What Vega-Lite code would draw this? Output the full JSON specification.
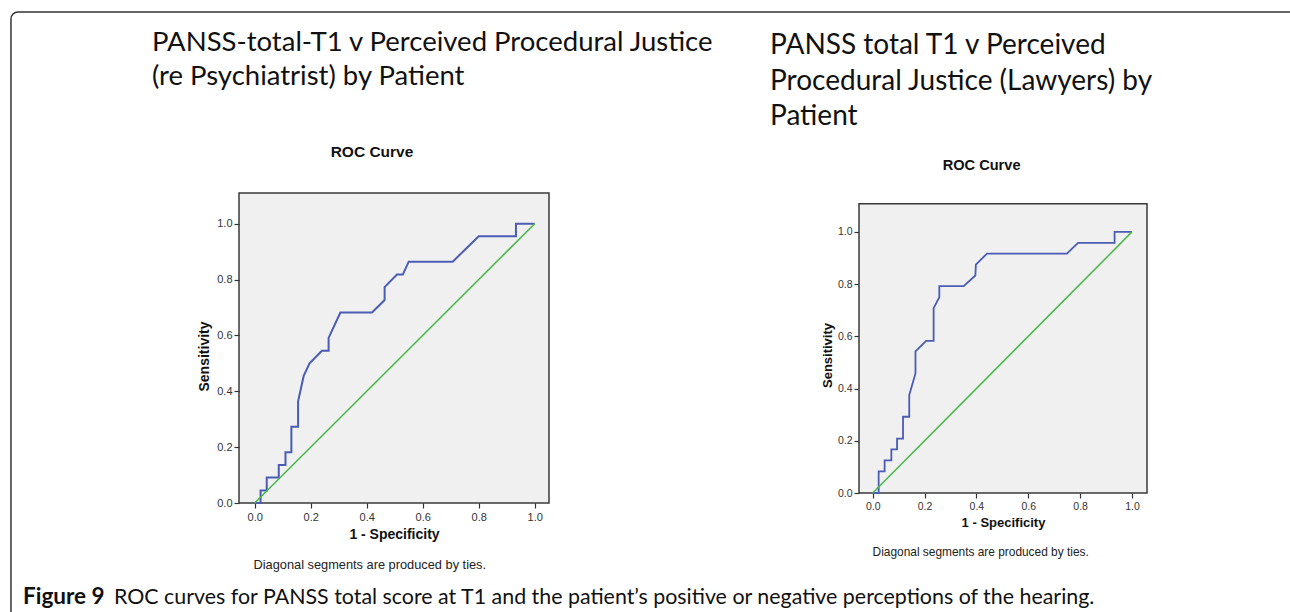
{
  "$schema": "https://vega.github.io/schema/vega-lite/v6.json",
  "padding": {"left": 9, "top": 10, "right": 0, "bottom": 0},
  "bounds": "flush",
  "spacing": 310,
  "config": {
    "view": {"stroke": null},
    "font": "Liberation Sans",
    "axis": {"grid": false, "domain": false, "labelFont": "Liberation Sans", "labelColor": "#333", "tickColor": "#333", "tickSize": 5, "tickWidth": 1.2,
      "titleFont": "Liberation Sans", "titleFontWeight": "bold", "titleColor": "#111"}
  },
  "datasets": {
    "left": [
      {"i": 0, "fpr": 0, "tpr": 0},
      {"i": 1, "fpr": 0.021, "tpr": 0},
      {"i": 2, "fpr": 0.021, "tpr": 0.045},
      {"i": 3, "fpr": 0.043, "tpr": 0.045},
      {"i": 4, "fpr": 0.043, "tpr": 0.091},
      {"i": 5, "fpr": 0.086, "tpr": 0.091},
      {"i": 6, "fpr": 0.086, "tpr": 0.136},
      {"i": 7, "fpr": 0.11, "tpr": 0.136},
      {"i": 8, "fpr": 0.11, "tpr": 0.182},
      {"i": 9, "fpr": 0.131, "tpr": 0.182},
      {"i": 10, "fpr": 0.131, "tpr": 0.273},
      {"i": 11, "fpr": 0.155, "tpr": 0.273},
      {"i": 12, "fpr": 0.155, "tpr": 0.364},
      {"i": 13, "fpr": 0.175, "tpr": 0.455},
      {"i": 14, "fpr": 0.196, "tpr": 0.5},
      {"i": 15, "fpr": 0.24, "tpr": 0.545},
      {"i": 16, "fpr": 0.264, "tpr": 0.545},
      {"i": 17, "fpr": 0.264, "tpr": 0.591},
      {"i": 18, "fpr": 0.306, "tpr": 0.682},
      {"i": 19, "fpr": 0.419, "tpr": 0.682},
      {"i": 20, "fpr": 0.464, "tpr": 0.727},
      {"i": 21, "fpr": 0.464, "tpr": 0.773},
      {"i": 22, "fpr": 0.508, "tpr": 0.818},
      {"i": 23, "fpr": 0.529, "tpr": 0.818},
      {"i": 24, "fpr": 0.55, "tpr": 0.864},
      {"i": 25, "fpr": 0.707, "tpr": 0.864},
      {"i": 26, "fpr": 0.8, "tpr": 0.955},
      {"i": 27, "fpr": 0.933, "tpr": 0.955},
      {"i": 28, "fpr": 0.933, "tpr": 1.0},
      {"i": 29, "fpr": 1.0, "tpr": 1.0}
    ],
    "right": [
      {"i": 0, "fpr": 0, "tpr": 0},
      {"i": 1, "fpr": 0.023, "tpr": 0},
      {"i": 2, "fpr": 0.023, "tpr": 0.083},
      {"i": 3, "fpr": 0.046, "tpr": 0.083},
      {"i": 4, "fpr": 0.046, "tpr": 0.125},
      {"i": 5, "fpr": 0.072, "tpr": 0.125},
      {"i": 6, "fpr": 0.072, "tpr": 0.167},
      {"i": 7, "fpr": 0.094, "tpr": 0.167},
      {"i": 8, "fpr": 0.094, "tpr": 0.208},
      {"i": 9, "fpr": 0.117, "tpr": 0.208},
      {"i": 10, "fpr": 0.117, "tpr": 0.292},
      {"i": 11, "fpr": 0.141, "tpr": 0.292},
      {"i": 12, "fpr": 0.141, "tpr": 0.375},
      {"i": 13, "fpr": 0.165, "tpr": 0.458},
      {"i": 14, "fpr": 0.165, "tpr": 0.542},
      {"i": 15, "fpr": 0.206, "tpr": 0.583},
      {"i": 16, "fpr": 0.235, "tpr": 0.583},
      {"i": 17, "fpr": 0.235, "tpr": 0.708},
      {"i": 18, "fpr": 0.257, "tpr": 0.75},
      {"i": 19, "fpr": 0.257, "tpr": 0.792},
      {"i": 20, "fpr": 0.351, "tpr": 0.792},
      {"i": 21, "fpr": 0.396, "tpr": 0.833},
      {"i": 22, "fpr": 0.398, "tpr": 0.875},
      {"i": 23, "fpr": 0.441, "tpr": 0.917},
      {"i": 24, "fpr": 0.749, "tpr": 0.917},
      {"i": 25, "fpr": 0.792, "tpr": 0.958},
      {"i": 26, "fpr": 0.933, "tpr": 0.958},
      {"i": 27, "fpr": 0.933, "tpr": 1.0},
      {"i": 28, "fpr": 1.0, "tpr": 1.0}
    ],
    "diag": [
      {"i": 0, "fpr": 0, "tpr": 0},
      {"i": 1, "fpr": 1, "tpr": 1}
    ],
    "one": [{}]
  },
  "hconcat": [
    {
      "width": 310,
      "height": 310,
      "view": {"fill": "#f0f0f0", "stroke": "#3a3a3a", "strokeWidth": 1.5},
      "encoding": {
        "x": {"type": "quantitative", "scale": {"domain": [-0.056, 1.051], "nice": false, "zero": false},
          "axis": {"values": [0, 0.2, 0.4, 0.6, 0.8, 1], "format": ".1f", "title": "1 - Specificity",
            "labelFontSize": 11, "labelPadding": 3, "titleFontSize": 14, "titlePadding": 5}},
        "y": {"type": "quantitative", "scale": {"domain": [0, 1.11], "nice": false, "zero": false},
          "axis": {"values": [0, 0.2, 0.4, 0.6, 0.8, 1], "format": ".1f", "title": "Sensitivity",
            "labelFontSize": 11, "labelPadding": 2, "titleFontSize": 14,
            "titleX": -35, "titleY": 163, "titleAlign": "center", "titleBaseline": "middle"}}
      },
      "layer": [
        {
          "data": {"name": "left"},
          "mark": {"type": "line", "color": "#4a5cb3", "strokeWidth": 2},
          "encoding": {
            "x": {"field": "fpr"},
            "y": {"field": "tpr"},
            "order": {"field": "i", "type": "quantitative"}
          }
        },
        {
          "data": {"name": "diag"},
          "mark": {"type": "line", "color": "#45b845", "strokeWidth": 1.5},
          "encoding": {
            "x": {"field": "fpr"},
            "y": {"field": "tpr"},
            "order": {"field": "i", "type": "quantitative"}
          }
        },
        {
          "data": {"name": "one"},
          "mark": {"type": "text", "text": "ROC Curve", "font": "Liberation Sans", "fontSize": 15.5, "fontWeight": "bold", "color": "#111", "align": "center", "baseline": "middle"},
          "encoding": {"x": {"datum": 0.419}, "y": {"datum": 1.257}}
        },
        {
          "data": {"name": "one"},
          "mark": {"type": "text", "text": "Diagonal segments are produced by ties.", "font": "Liberation Sans", "fontSize": 12.8, "color": "#222", "align": "center", "baseline": "middle"},
          "encoding": {"x": {"datum": 0.411}, "y": {"datum": -0.2226}}
        },
        {
          "data": {"name": "one"},
          "mark": {"type": "text", "text": ["PANSS-total-T1 v Perceived Procedural Justice", "(re Psychiatrist)  by Patient"], "font": "Lato", "fontSize": 27.5, "lineHeight": 34, "color": "#111", "align": "left", "baseline": "alphabetic"},
          "encoding": {"x": {"datum": -0.367}, "y": {"datum": 1.618}}
        },
        {
          "data": {"name": "one"},
          "mark": {"type": "text", "text": "Figure 9", "font": "Lato", "fontSize": 22.5, "fontWeight": "bold", "color": "#111", "align": "left", "baseline": "alphabetic"},
          "encoding": {"x": {"datum": -0.8275}, "y": {"datum": -0.3616}}
        },
        {
          "data": {"name": "one"},
          "mark": {"type": "text", "text": "ROC curves for PANSS total score at T1 and the patient’s positive or negative perceptions of the hearing.", "font": "Lato", "fontSize": 21.4, "color": "#111", "align": "left", "baseline": "alphabetic"},
          "encoding": {"x": {"datum": -0.5025}, "y": {"datum": -0.3616}}
        },
        {
          "data": {"name": "one"},
          "mark": {"type": "rule", "color": "#333", "strokeWidth": 1.5},
          "encoding": {"x": {"datum": -0.8703}, "y": {"datum": -0.39}, "y2": {"datum": 1.7329}}
        },
        {
          "data": {"name": "one"},
          "mark": {"type": "rule", "color": "#333", "strokeWidth": 1.5},
          "encoding": {"x": {"datum": -0.8453}, "x2": {"datum": 3.697}, "y": {"datum": 1.758}}
        },
        {
          "data": {"name": "one"},
          "mark": {"type": "arc", "color": "#333", "theta": -1.5708, "theta2": 0, "radius": 7.75, "radius2": 6.25},
          "encoding": {"x": {"datum": -0.8453}, "y": {"datum": 1.7329}}
        }
      ]
    },
    {
      "width": 288,
      "height": 300,
      "encoding": {
        "x": {"type": "quantitative", "scale": {"domain": [-0.0528, 1.058], "nice": false, "zero": false},
          "axis": {"values": [0, 0.2, 0.4, 0.6, 0.8, 1], "format": ".1f", "title": "1 - Specificity",
            "labelFontSize": 10.5, "labelPadding": 3, "titleFontSize": 13, "titlePadding": 5}},
        "y": {"type": "quantitative", "scale": {"domain": [0, 1.149], "nice": false, "zero": false},
          "axis": {"values": [0, 0.2, 0.4, 0.6, 0.8, 1], "format": ".1f", "title": "Sensitivity",
            "labelFontSize": 10.5, "labelPadding": 2, "titleFontSize": 13,
            "titleX": -32, "titleY": 162, "titleAlign": "center", "titleBaseline": "middle"}}
      },
      "layer": [
        {
          "data": {"name": "one"},
          "mark": {"type": "rect", "fill": "#f0f0f0", "stroke": "#3a3a3a", "strokeWidth": 1.5},
          "encoding": {"x": {"datum": -0.0528}, "x2": {"datum": 1.058}, "y": {"datum": 0}, "y2": {"datum": 1.108}}
        },
        {
          "data": {"name": "right"},
          "mark": {"type": "line", "color": "#4a5cb3", "strokeWidth": 1.8},
          "encoding": {
            "x": {"field": "fpr"},
            "y": {"field": "tpr"},
            "order": {"field": "i", "type": "quantitative"}
          }
        },
        {
          "data": {"name": "diag"},
          "mark": {"type": "line", "color": "#45b845", "strokeWidth": 1.5},
          "encoding": {
            "x": {"field": "fpr"},
            "y": {"field": "tpr"},
            "order": {"field": "i", "type": "quantitative"}
          }
        },
        {
          "data": {"name": "one"},
          "mark": {"type": "text", "text": "ROC Curve", "font": "Liberation Sans", "fontSize": 14.6, "fontWeight": "bold", "color": "#111", "align": "center", "baseline": "middle"},
          "encoding": {"x": {"datum": 0.42}, "y": {"datum": 1.252}}
        },
        {
          "data": {"name": "one"},
          "mark": {"type": "text", "text": "Diagonal segments are produced by ties.", "font": "Liberation Sans", "fontSize": 11.9, "color": "#222", "align": "center", "baseline": "middle"},
          "encoding": {"x": {"datum": 0.4165}, "y": {"datum": -0.2268}}
        },
        {
          "data": {"name": "one"},
          "mark": {"type": "text", "text": ["PANSS total T1 v Perceived", "Procedural Justice (Lawyers) by", "Patient"], "font": "Lato", "fontSize": 28, "lineHeight": 35.5, "color": "#111", "align": "left", "baseline": "alphabetic"},
          "encoding": {"x": {"datum": -0.396}, "y": {"datum": 1.681}}
        }
      ]
    }
  ]
}
